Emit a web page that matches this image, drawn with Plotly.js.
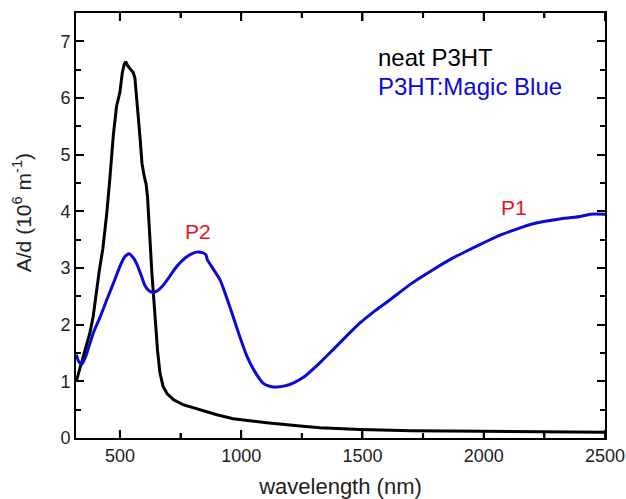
<!DOCTYPE html>
<html>
<head>
<meta charset="utf-8">
<script src="https://cdn.plot.ly/plotly-3.0.1.min.js"></script>
<style>html,body{margin:0;padding:0;background:#fff;}#chart{width:626px;height:499px;}</style>
</head>
<body>
<div id="chart"></div>
<script>
// neat P3HT
const neatWl = [320, 335, 350, 365, 376, 390, 403, 415, 430, 446, 459, 473, 486, 500, 510, 518, 524, 532, 545, 555, 562, 568, 575, 583, 591, 600, 608, 614, 619, 624, 632, 645, 655, 665, 678, 695, 720, 760, 830, 900, 967, 1040, 1105, 1243, 1325, 1490, 1700, 2000, 2250, 2500];
const neatA  = [1.0, 1.22, 1.45, 1.68, 1.85, 2.15, 2.6, 2.95, 3.35, 3.97, 4.6, 5.35, 5.85, 6.1, 6.45, 6.6, 6.64, 6.57, 6.5, 6.45, 6.35, 6.1, 5.7, 5.3, 4.85, 4.62, 4.48, 4.25, 3.8, 3.35, 2.9, 2.14, 1.55, 1.15, 0.91, 0.78, 0.68, 0.59, 0.5, 0.41, 0.34, 0.3, 0.27, 0.21, 0.18, 0.15, 0.13, 0.12, 0.11, 0.1];
// P3HT:Magic Blue
const blueWl = [320, 330, 343, 360, 390, 420, 446, 475, 500, 520, 537, 555, 570, 587, 603, 620, 637, 655, 678, 705, 735, 770, 800, 816, 840, 855, 860, 870, 913, 940, 967, 995, 1024, 1055, 1090, 1120, 1148, 1180, 1214, 1260, 1325, 1379, 1430, 1490, 1550, 1614, 1700, 1791, 1870, 1930, 2068, 2203, 2320, 2397, 2420, 2440, 2500];
const blueA  = [1.47, 1.35, 1.3, 1.45, 1.85, 2.15, 2.44, 2.75, 3.03, 3.2, 3.25, 3.18, 3.07, 2.88, 2.69, 2.6, 2.57, 2.6, 2.69, 2.85, 3.03, 3.18, 3.26, 3.28, 3.27, 3.23, 3.15, 3.08, 2.79, 2.48, 2.14, 1.78, 1.44, 1.18, 0.97, 0.91, 0.9, 0.92, 0.97, 1.08, 1.33, 1.56, 1.78, 2.03, 2.24, 2.44, 2.72, 2.97, 3.17, 3.3, 3.58, 3.78, 3.87, 3.91, 3.93, 3.95, 3.95];

const seriesNames = ["neat P3HT", "P3HT:Magic Blue"];
const peakLabels = ["P2", "P1"];
const peakWl = [820, 2123];
const peakA = [3.65, 4.07];
const xMajorTicks = [500, 1000, 1500, 2000, 2500];
const xMinorTicks = [750, 1250, 1750, 2250];

const FONT = "Liberation Sans, Arial, sans-serif";
const BLUE = "rgb(10,10,215)";
const RED = "rgb(228,20,30)";

const W = 626, H = 499;
const M = {l: 76, r: 21, t: 13, b: 61};
const plotH = H - M.t - M.b;

const traces = [
  {x: neatWl, y: neatA, type: "scatter", mode: "lines", name: seriesNames[0],
   line: {color: "#000", width: 3}},
  {x: blueWl, y: blueA, type: "scatter", mode: "lines", name: seriesNames[1],
   line: {color: BLUE, width: 3, shape: "spline", smoothing: 0.5}}
];

// x-axis tick marks (bottom and mirrored top), placed through the x axis scale
const shapes = [];
function addTick(v, len) {
  const f = len / plotH;
  shapes.push({type: "line", xref: "x", yref: "paper", x0: v, x1: v, y0: 0, y1: f, line: {color: "#000", width: 2}, layer: "above"});
  shapes.push({type: "line", xref: "x", yref: "paper", x0: v, x1: v, y0: 1, y1: 1 - f, line: {color: "#000", width: 2}, layer: "above"});
}
xMajorTicks.forEach(function (v) { addTick(v, 8); });
xMinorTicks.forEach(function (v) { addTick(v, 5); });

const layout = {
  width: W, height: H,
  margin: M,
  paper_bgcolor: "#fff", plot_bgcolor: "#fff",
  showlegend: false,
  xaxis: {
    range: [319, 2500], tickmode: "array", tickvals: xMajorTicks,
    showline: true, linecolor: "#000", linewidth: 2, mirror: "ticks",
    ticks: "inside", ticklen: 8, tickwidth: 2, tickcolor: "#000",
    minor: {tickmode: "array", tickvals: xMinorTicks, ticks: "inside", ticklen: 5, tickwidth: 2, tickcolor: "#000", showgrid: false},
    showgrid: false, zeroline: false,
    tickfont: {family: FONT, size: 18, color: "#222"},
    title: {text: "wavelength (nm)", font: {family: FONT, size: 22, color: "#222"}, standoff: 14}
  },
  yaxis: {
    range: [0, 7.5], tick0: 0, dtick: 1,
    showline: true, linecolor: "#000", linewidth: 2, mirror: "ticks",
    ticks: "inside", ticklen: 8, tickwidth: 1.5, tickcolor: "#000",
    showgrid: false, zeroline: false,
    tickfont: {family: FONT, size: 18, color: "#222"},
    minor: {dtick: 0.5, ticks: "inside", ticklen: 5, tickwidth: 1.5, tickcolor: "#000", showgrid: false}
  },
  shapes: shapes,
  annotations: [
    {xref: "paper", yref: "paper", x: -0.102, y: 0.529, xanchor: "center", yanchor: "middle",
     textangle: -90, showarrow: false, text: "A/d (10<sup>6</sup> m<sup>-1</sup>)",
     font: {family: FONT, size: 21, color: "#222"}},
    {xref: "x", yref: "y", x: 1555, y: 6.71, xanchor: "left", yanchor: "middle", showarrow: false,
     text: seriesNames[0], font: {family: FONT, size: 24, color: "#000"}},
    {xref: "x", yref: "y", x: 1555, y: 6.2, xanchor: "left", yanchor: "middle", showarrow: false,
     text: seriesNames[1], font: {family: FONT, size: 24, color: BLUE}},
    {xref: "x", yref: "y", x: peakWl[0], y: peakA[0], xanchor: "center", yanchor: "middle", showarrow: false,
     text: peakLabels[0], font: {family: FONT, size: 21, color: RED}},
    {xref: "x", yref: "y", x: peakWl[1], y: peakA[1], xanchor: "center", yanchor: "middle", showarrow: false,
     text: peakLabels[1], font: {family: FONT, size: 21, color: RED}}
  ]
};

Plotly.newPlot("chart", traces, layout, {displayModeBar: false});
</script>
</body>
</html>
